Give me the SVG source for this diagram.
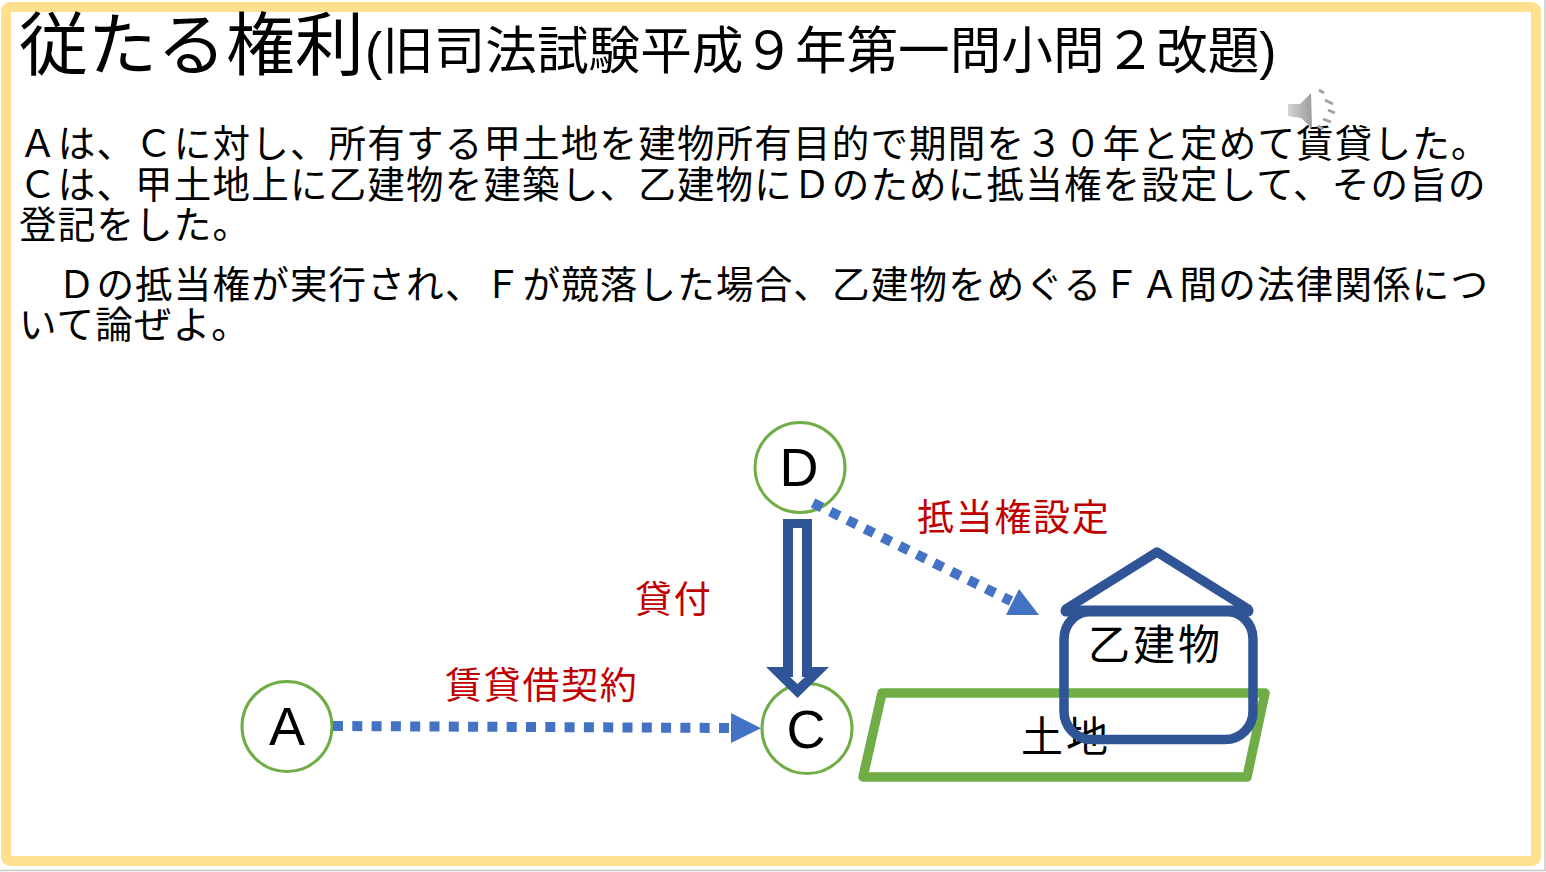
<svg xmlns="http://www.w3.org/2000/svg" width="1546" height="872" viewBox="0 0 1546 872">
<defs>
<marker id="tri" markerUnits="userSpaceOnUse" markerWidth="30" markerHeight="30" refX="0" refY="15" orient="auto"><path d="M0 0L30 15L0 30z" fill="#4472C4"/></marker>
<marker id="tri-fixed" markerUnits="userSpaceOnUse" markerWidth="34" markerHeight="28" refX="5" refY="13" orient="0"><path d="M0 27L33 27L13 1z" fill="#4472C4"/></marker>
<linearGradient id="spk" x1="0" x2="1" y1="0" y2="0"><stop offset="0" stop-color="#d4d4d4"/><stop offset="1" stop-color="#9c9c9c"/></linearGradient>
</defs>
<style>
text{font-family:"Liberation Sans","Noto Sans CJK JP",sans-serif;fill:#000}
.body{font-size:37.500px;letter-spacing:1.200px}
.red{font-size:37px;fill:#C00000;letter-spacing:1.700px}
.big{font-size:42px;letter-spacing:3px}
.letter{font-size:54px;text-anchor:middle}
.circle{fill:#fff;stroke:#70AD47;stroke-width:3}
.dot{fill:none;stroke:#4472C4;stroke-width:10;stroke-dasharray:10 9.300}
.navy{fill:none;stroke:#2F5597;stroke-linejoin:round;stroke-linecap:round}
</style>
<rect width="1546" height="872" fill="#fff"/>
<path d="M0 870.500H1546M1545 0V870" fill="none" stroke="#c8c8c8" stroke-width="1.500"/>
<rect x="6" y="7" width="1530" height="854" rx="4" fill="#fff" stroke="#FFE08F" stroke-width="10"/>

<g id="title">
<text x="19" y="70" font-size="69">従たる権利</text>
<text x="365" y="69" font-size="51.600">(旧司法試験平成９年第一問小問２改題)</text>
</g>

<g id="problem-text">
<text class="body" x="19" y="156.500">Ａは、Ｃに対し、所有する甲土地を建物所有目的で期間を３０年と定めて賃貸した。</text>
<text class="body" x="19" y="197.500">Ｃは、甲土地上に乙建物を建築し、乙建物にＤのために抵当権を設定して、その旨の</text>
<text class="body" x="19" y="237.500">登記をした。</text>
<text class="body" x="19" y="297.500">　Ｄの抵当権が実行され、Ｆが競落した場合、乙建物をめぐるＦＡ間の法律関係につ</text>
<text class="body" x="19" y="337.500">いて論ぜよ。</text>
</g>

<g id="speaker">
<path d="M1288 104H1300L1311 93L1312 128L1301 118L1288 116z" fill="url(#spk)"/>
<path d="M1319 90l5 3M1325 100l8 4M1328 110l7 3M1323 119l8 3M1318 126l5 3" fill="none" stroke="#a0a0a0" stroke-width="2.800"/>
</g>

<g id="node-A"><circle class="circle" cx="287" cy="726.500" r="45"/><text class="letter" x="287" y="745">A</text></g>
<g id="node-C"><circle class="circle" cx="807" cy="728.500" r="45"/><text class="letter" x="806" y="748">C</text></g>
<g id="node-D"><circle class="circle" cx="800" cy="467.500" r="45"/><text class="letter" x="799" y="486">D</text></g>

<g id="node-land">
<path d="M882 693H1265L1247 777H863z" fill="none" stroke="#70AD47" stroke-width="9.500" stroke-linejoin="round"/>
<text class="big" x="1021" y="752">土地</text>
</g>
<g id="node-building">
<rect class="navy" x="1064" y="611" width="189" height="128.500" rx="28" stroke-width="9.500"/>
<path class="navy" d="M1066 609L1157 552L1248 609" stroke-width="9.500"/>
<path class="navy" d="M1066 611H1248" stroke-width="11"/>
<text class="big" x="1088" y="660">乙建物</text>
</g>

<g id="connectors">
<path class="dot" d="M333 726L731 728" marker-end="url(#tri)"/>
<path class="dot" d="M813 503L1011 601" marker-end="url(#tri-fixed)"/>
<path d="M783 519H812V667H829L797.500 698L766 667H783z" fill="#2F5597"/>
<path d="M793 528H802V677H805L797.500 684L790 677H793z" fill="#fff"/>
</g>

<g id="labels">
<text class="red" x="445" y="699">賃貸借契約</text>
<text class="red" x="635" y="612.500">貸付</text>
<text class="red" x="917" y="530.500">抵当権設定</text>
</g>
</svg>
